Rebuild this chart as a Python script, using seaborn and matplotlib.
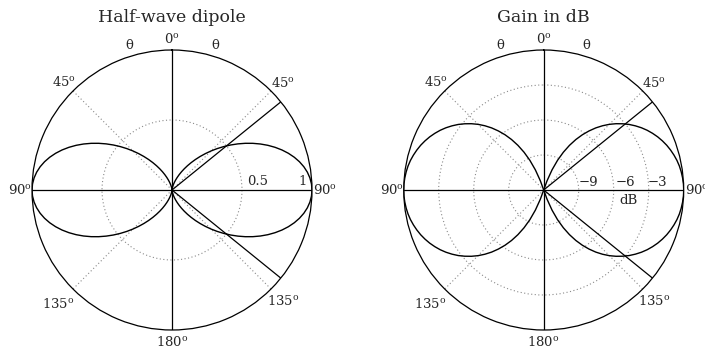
import numpy as np
import pandas as pd
import matplotlib
matplotlib.use("Agg")
import matplotlib.pyplot as plt
import seaborn as sns

# ---- data ----
angles_deg = [0, 2.5, 5, 7.5, 10, 12.5, 15, 17.5, 20, 22.5, 25, 27.5, 30, 32.5, 35, 37.5,
              40, 42.5, 45, 47.5, 50, 52.5, 55, 57.5, 60, 62.5, 65, 67.5, 70, 72.5, 75,
              77.5, 80, 82.5, 85, 87.5, 90, 92.5, 95, 97.5, 100, 102.5, 105, 107.5, 110,
              112.5, 115, 117.5, 120, 122.5, 125, 127.5, 130, 132.5, 135, 137.5, 140,
              142.5, 145, 147.5, 150, 152.5, 155, 157.5, 160, 162.5, 165, 167.5, 170,
              172.5, 175, 177.5, 180]
power = [0.0, 0.0012, 0.0047, 0.0106, 0.0189, 0.0296, 0.0427, 0.0584, 0.0765, 0.0972,
         0.1204, 0.1462, 0.1746, 0.2054, 0.2387, 0.2745, 0.3124, 0.3524, 0.3943, 0.4378,
         0.4825, 0.5282, 0.5744, 0.6207, 0.6667, 0.7117, 0.7553, 0.7968, 0.8359, 0.8718,
         0.9042, 0.9325, 0.9563, 0.9752, 0.9888, 0.9972, 1.0,
         0.9972, 0.9888, 0.9752, 0.9563, 0.9325, 0.9042, 0.8718, 0.8359, 0.7968, 0.7553,
         0.7117, 0.6667, 0.6207, 0.5744, 0.5282, 0.4825, 0.4378, 0.3943, 0.3524, 0.3124,
         0.2745, 0.2387, 0.2054, 0.1746, 0.1462, 0.1204, 0.0972, 0.0765, 0.0584, 0.0427,
         0.0296, 0.0189, 0.0106, 0.0047, 0.0012, 0.0]
gain_db = [-12, -12, -12, -12, -12, -12, -12, -12, -11.16, -10.13, -9.19, -8.35, -7.58,
           -6.87, -6.22, -5.62, -5.05, -4.53, -4.04, -3.59, -3.17, -2.77, -2.41, -2.07,
           -1.76, -1.48, -1.22, -0.99, -0.78, -0.60, -0.44, -0.30, -0.19, -0.11, -0.05,
           -0.01, 0.0,
           -0.01, -0.05, -0.11, -0.19, -0.30, -0.44, -0.60, -0.78, -0.99, -1.22, -1.48,
           -1.76, -2.07, -2.41, -2.77, -3.17, -3.59, -4.04, -4.53, -5.05, -5.62, -6.22,
           -6.87, -7.58, -8.35, -9.19, -10.13, -11.16, -12, -12, -12, -12, -12, -12,
           -12, -12]
half_power_deg = [51, 129]
titles = ["Half-wave dipole", "Gain in dB"]
lin_rings = [0.5]
lin_ring_labels = ["0.5", "1"]
db_rings = [-9, -6, -3]
db_ring_labels = ["\u22129", "\u22126", "\u22123"]

sns.set_style("white")
plt.rcParams["font.family"] = ["DejaVu Serif"]
plt.rcParams["mathtext.fontset"] = "dejavuserif"

rows = []
for side, sign in (("right", 1), ("left", -1)):
    for a, p, g in zip(angles_deg, power, gain_db):
        rows.append({"side": side, "theta": np.deg2rad(sign * a), "power": p, "gain": g})
df = pd.DataFrame(rows)

W, H = 705, 349
fig = plt.figure(figsize=(W / 100, H / 100), dpi=100)

def make_ax(cx, cy, R=140):
    return fig.add_axes([(cx - R) / W, (H - cy - R) / H, 2 * R / W, 2 * R / H],
                        projection="polar")

dot = (0, (1, 2.2))
gcol = "#8a8a8a"

def style(ax, rmin, rmax, rings):
    ax.set_theta_zero_location("N")
    ax.set_theta_direction(-1)
    ax.set_rlim(rmin, rmax)
    ax.set_thetagrids([45, 135, 225, 315], labels=[""] * 4)
    ax.set_rgrids(rings, labels=[""] * len(rings))
    ax.grid(True, color=gcol, linestyle=dot, linewidth=0.8)
    ax.spines["polar"].set_linewidth(0.9)
    ax.spines["polar"].set_color("black")
    for a in (0, 90, 180, 270):
        ax.plot([np.deg2rad(a)] * 2, [rmin, rmax], color="black", lw=0.9)
    for a in half_power_deg:
        ax.plot([np.deg2rad(a)] * 2, [rmin, rmax], color="black", lw=0.9)
    ax.set_xlabel("")
    ax.set_ylabel("")
    ax.set_facecolor("white")

    def rf(f):
        return rmin + f * (rmax - rmin)

    fs = 9.5
    deg = lambda s: s + r"$^{\mathrm{o}}$"
    ax.text(0, rf(1.08), deg("0"), ha="center", va="center", fontsize=fs)
    ax.text(np.deg2rad(16.5), rf(1.08), "\u03b8", ha="center", va="center", fontsize=fs)
    ax.text(np.deg2rad(-16.5), rf(1.08), "\u03b8", ha="center", va="center", fontsize=fs)
    ax.text(np.deg2rad(46), rf(1.1), deg("45"), ha="center", va="center", fontsize=fs)
    ax.text(np.deg2rad(-45), rf(1.09), deg("45"), ha="center", va="center", fontsize=fs)
    ax.text(np.deg2rad(90), rf(1.095), deg("90"), ha="center", va="center", fontsize=fs)
    ax.text(np.deg2rad(-90), rf(1.085), deg("90"), ha="center", va="center", fontsize=fs)
    ax.text(np.deg2rad(135), rf(1.12), deg("135"), ha="center", va="center", fontsize=fs)
    ax.text(np.deg2rad(-135), rf(1.15), deg("135"), ha="center", va="center", fontsize=fs)
    ax.text(np.deg2rad(180), rf(1.085), deg("180"), ha="center", va="center", fontsize=fs)
    return fs

# Left: normalized power pattern
ax1 = make_ax(172, 190)
sns.lineplot(data=df, x="theta", y="power", units="side", estimator=None, sort=False,
             color="black", lw=1.0, ax=ax1)
fs = style(ax1, 0, 1, lin_rings)
ax1.annotate(lin_ring_labels[0], xy=(np.pi / 2, 0.5), xytext=(16, 8.5),
             textcoords="offset pixels", ha="center", va="center", fontsize=fs)
ax1.annotate(lin_ring_labels[1], xy=(np.pi / 2, 1.0), xytext=(-9.5, 8.5),
             textcoords="offset pixels", ha="center", va="center", fontsize=fs)

# Right: gain in dB
ax2 = make_ax(543.7, 190)
sns.lineplot(data=df, x="theta", y="gain", units="side", estimator=None, sort=False,
             color="black", lw=1.0, ax=ax2)
style(ax2, -12, 0, db_rings)
for r, lab, off in zip(db_rings, db_ring_labels, [(9.5, 7), (12, 7), (9, 7)]):
    ax2.annotate(lab, xy=(np.pi / 2, r), xytext=off, textcoords="offset pixels",
                 ha="center", va="center", fontsize=fs)
ax2.annotate("dB", xy=(np.pi / 2, -6), xytext=(15, -11), textcoords="offset pixels",
             ha="center", va="center", fontsize=fs)

fig.text(172 / W, 1 - 17 / H, titles[0], ha="center", va="center", fontsize=12.5)
fig.text(543 / W, 1 - 17 / H, titles[1], ha="center", va="center", fontsize=12.5)

fig.savefig("out.png", dpi=100, facecolor="white")
